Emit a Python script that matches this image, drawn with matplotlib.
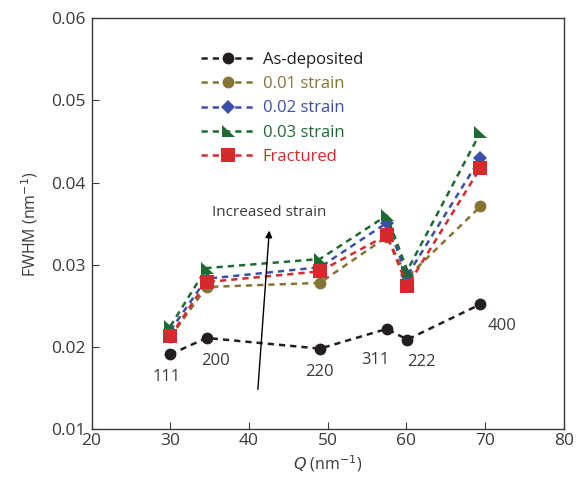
import matplotlib.pyplot as plt
from matplotlib.path import Path

plt.rcParams['font.family'] = ['Open Sans', 'DejaVu Sans']

# peak positions Q (nm^-1)
q = [30.0, 34.6, 49.0, 57.5, 60.1, 69.4]
peaks = ['111', '200', '220', '311', '222', '400']

as_dep = [0.0191, 0.0211, 0.0198, 0.0222, 0.0209, 0.0252]
s001 = [0.0212, 0.0273, 0.0278, 0.0334, 0.0285, 0.0371]
s002 = [0.0220, 0.0283, 0.0297, 0.0351, 0.0287, 0.0430]
s003 = [0.0225, 0.0296, 0.0307, 0.0360, 0.0293, 0.0461]
fract = [0.0213, 0.0279, 0.0292, 0.0336, 0.0274, 0.0418]

names = ['As-deposited', '0.01 strain', '0.02 strain', '0.03 strain', 'Fractured']
colors = ['#231f20', '#857434', '#3a4fa8', '#1e6b32', '#d42a2e']
grey = '#3a3a3a'

# right-angle triangle marker (like the green one)
tri = Path([(-1, 1), (-1, -1), (1.1, -1), (-1, 1)], closed=True)
markers = ['o', 'o', 'D', tri, 's']
sizes = [8.5, 8.5, 7, 9.5, 9.5]

fig = plt.figure(figsize=(5.76, 4.79), dpi=100)
ax = fig.add_axes([0.159, 0.104, 0.82, 0.858])

series = [as_dep, s001, s002, s003, fract]
for vals, name, c, m, ms in zip(series, names, colors, markers, sizes):
    ax.plot(q, vals, linestyle=(0, (2.5, 2)), linewidth=1.8, color=c,
            marker=m, markersize=ms, markeredgewidth=0, label=name)

# hkl labels
offsets = [(-0.5, -0.0027), (1.2, -0.0028), (0.0, -0.0028), (-1.4, -0.0038),
           (1.8, -0.0027), (2.7, -0.0027)]
for x, y, t, (dx, dy) in zip(q, as_dep, peaks, offsets):
    ax.text(x + dx, y + dy, t, ha='center', va='center', fontsize=12, color=grey)

ax.annotate('', xy=(42.6, 0.0345), xytext=(41.1, 0.0145),
            arrowprops=dict(arrowstyle='-|>', color='black', lw=1.0,
                            mutation_scale=10))
ax.text(42.6, 0.0364, 'Increased strain', ha='center', va='center',
        fontsize=11, color=grey)

ax.set_xlim(20, 80)
ax.set_ylim(0.01, 0.06)
ax.set_xticks(range(20, 81, 10))
ax.set_yticks([0.01, 0.02, 0.03, 0.04, 0.05, 0.06])
ax.set_yticklabels(['0.01', '0.02', '0.03', '0.04', '0.05', '0.06'])
ax.tick_params(direction='in', length=5, labelsize=12.5, colors=grey,
               top=False, right=False)
ax.tick_params(axis='x', pad=3)
ax.tick_params(axis='y', pad=4)
for s in ax.spines.values():
    s.set_color(grey)
    s.set_linewidth(1.0)

ax.set_xlabel(r'$Q$ (nm$^{-1}$)', fontsize=11.5, color=grey, labelpad=3)
ax.set_ylabel(r'FWHM (nm$^{-1}$)', fontsize=11.5, color=grey, labelpad=8)

leg = ax.legend(loc='upper left', bbox_to_anchor=(0.2, 0.955), frameon=False,
                fontsize=12, handlelength=3.2, labelspacing=0.5,
                handletextpad=0.5)
for txt, c in zip(leg.get_texts(), colors):
    txt.set_color(c)

fig.savefig('out.png', dpi=100)
